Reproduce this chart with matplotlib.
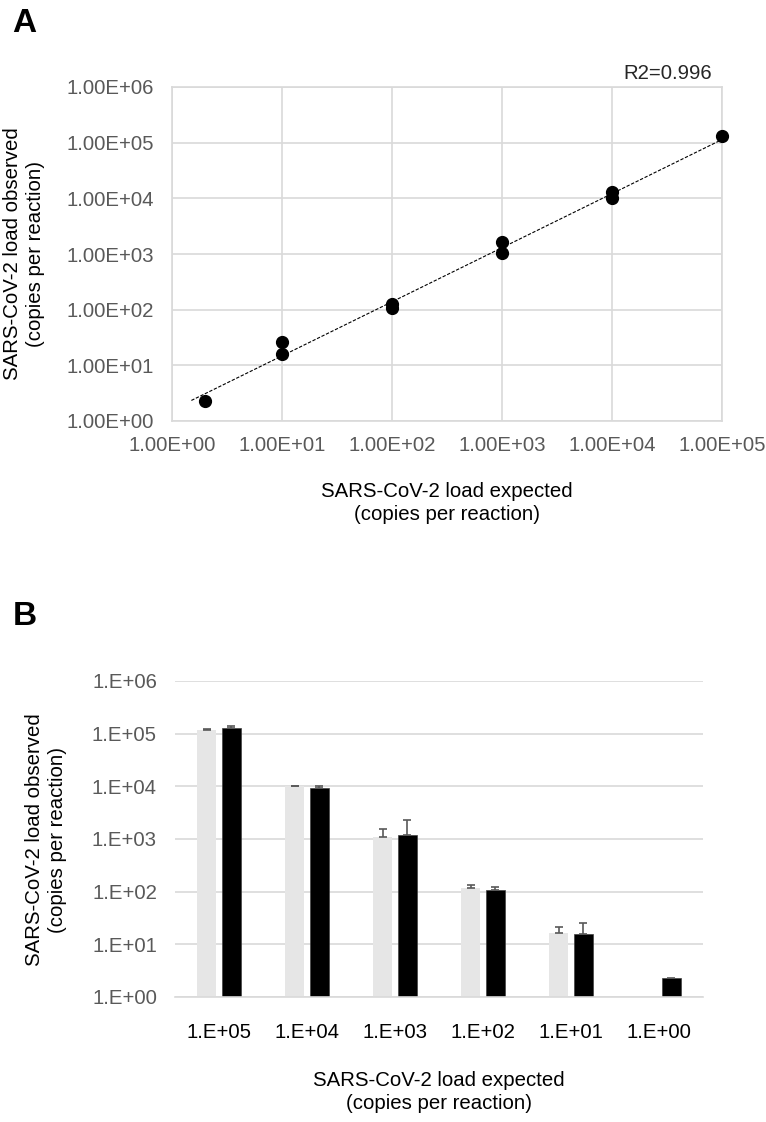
import numpy as np
import matplotlib
matplotlib.use("Agg")
import matplotlib.pyplot as plt

plt.rcParams["font.family"] = ["Liberation Sans", "DejaVu Sans"]

# ---- panel A data (scatter, log-log) ----
expected_a = [2, 10, 10, 100, 100, 1000, 1000, 1e4, 1e4, 1e5]
observed_a = [2.3, 26, 16, 126, 107, 1630, 1040, 12900, 10000, 130000]
ticks_a = [1e0, 1e1, 1e2, 1e3, 1e4, 1e5, 1e6]
ticklabels_a = ["1.00E+00", "1.00E+01", "1.00E+02", "1.00E+03",
                "1.00E+04", "1.00E+05", "1.00E+06"]
r2_label = "R2=0.996"

# ---- panel B data (bars) ----
categories_b = ["1.E+05", "1.E+04", "1.E+03", "1.E+02", "1.E+01", "1.E+00"]
grey_vals = [117000, 10100, 1080, 116, 16.6, np.nan]
grey_err = [3000, 200, 500, 18, 4.7, np.nan]
black_vals = [126000, 9300, 1180, 107, 15.7, 2.27]
black_err = [16000, 1000, 1150, 15, 10, np.nan]
yticks_b = [1e0, 1e1, 1e2, 1e3, 1e4, 1e5, 1e6]
yticklabels_b = ["1.E+00", "1.E+01", "1.E+02", "1.E+03", "1.E+04",
                 "1.E+05", "1.E+06"]

FS = 14.7
GRID = "#d9d9d9"
TICKC = "#595959"

W, H = 766, 1122
fig = plt.figure(figsize=(W / 100, H / 100), dpi=100)


def box(l, t, r, b):
    return [l / W, 1 - b / H, (r - l) / W, (b - t) / H]


# ================= Panel A =================
ax = fig.add_axes(box(172, 87, 722, 421))
ax.set_xscale("log")
ax.set_yscale("log")
ax.set_xlim(1, 1e5)
ax.set_ylim(1, 1e6)
ax.set_xticks(ticks_a[:6])
ax.set_xticklabels(ticklabels_a[:6])
ax.set_yticks(ticks_a)
ax.set_yticklabels(ticklabels_a)
ax.minorticks_off()
ax.tick_params(axis="x", length=0, pad=11, labelsize=FS, labelcolor=TICKC)
ax.tick_params(axis="y", length=0, pad=13, labelsize=FS, labelcolor=TICKC)
ax.grid(True, color=GRID, lw=1.2)
ax.set_axisbelow(True)
for s in ax.spines.values():
    s.set_color(GRID)
    s.set_linewidth(1.2)

# power trendline fitted in log space
lx = np.log10(expected_a)
ly = np.log10(observed_a)
slope, icpt = np.polyfit(lx, ly, 1)
xfit = np.array([1.5, 1e5])
ax.plot(xfit, 10 ** (icpt + slope * np.log10(xfit)), color="black",
        lw=0.8, ls=(0, (3, 1.5)), zorder=2)
ax.plot(expected_a, observed_a, "o", color="black", ms=8.5, zorder=3,
        clip_on=False)
ax.text(0.982, 1.04, r2_label, transform=ax.transAxes, ha="right",
        va="center", fontsize=FS, color="#262626")

fig.text(12 / W, 1 - 8 / H, "A", fontsize=24, fontweight="bold",
         ha="left", va="top")
fig.text(24 / W, 1 - 254 / H,
         "SARS-CoV-2 load observed\n(copies per reaction)",
         rotation=90, ha="center", va="center", multialignment="center",
         fontsize=FS, linespacing=1.25)
fig.text(447 / W, 1 - 503 / H,
         "SARS-CoV-2 load expected\n(copies per reaction)",
         ha="center", va="center", multialignment="center",
         fontsize=FS, linespacing=1.25)

# ================= Panel B =================
bx = fig.add_axes(box(175, 681, 703, 997))
x = np.arange(len(categories_b))
bw = 0.216
off = 0.142
bx.bar(x - off, grey_vals, bw, color="#e6e6e6", zorder=2)
bx.bar(x + off, black_vals, bw, color="black", edgecolor="#404040",
       lw=0.5, zorder=2)
zeros = [0] * len(categories_b)
bx.errorbar(x - off, grey_vals, yerr=[zeros, grey_err], fmt="none",
            ecolor="#595959", elinewidth=1.2, capsize=3, capthick=1.2,
            zorder=3)
bx.errorbar(x + off, black_vals, yerr=[zeros, black_err], fmt="none",
            ecolor="#595959", elinewidth=1.2, capsize=3, capthick=1.2,
            zorder=3)
bx.set_yscale("log")
bx.set_ylim(1, 1e6)
bx.set_xlim(-0.5, len(categories_b) - 0.5)
bx.set_yticks(yticks_b)
bx.set_yticklabels(yticklabels_b)
bx.minorticks_off()
bx.set_xticks(x)
bx.set_xticklabels(categories_b)
bx.tick_params(axis="x", length=0, pad=19, labelsize=FS, labelcolor="black")
bx.tick_params(axis="y", length=0, pad=13, labelsize=FS, labelcolor=TICKC)
bx.grid(True, axis="y", color=GRID, lw=1.2)
bx.set_axisbelow(True)
for k in ("top", "right", "left"):
    bx.spines[k].set_visible(False)
bx.spines["bottom"].set_color(GRID)
bx.spines["bottom"].set_linewidth(1.2)

fig.text(13 / W, 1 - 601 / H, "B", fontsize=24, fontweight="bold",
         ha="left", va="top")
fig.text(46 / W, 1 - 840 / H,
         "SARS-CoV-2 load observed\n(copies per reaction)",
         rotation=90, ha="center", va="center", multialignment="center",
         fontsize=FS, linespacing=1.25)
fig.text(439 / W, 1 - 1092 / H,
         "SARS-CoV-2 load expected\n(copies per reaction)",
         ha="center", va="center", multialignment="center",
         fontsize=FS, linespacing=1.25)

fig.savefig("out.png", dpi=100)
